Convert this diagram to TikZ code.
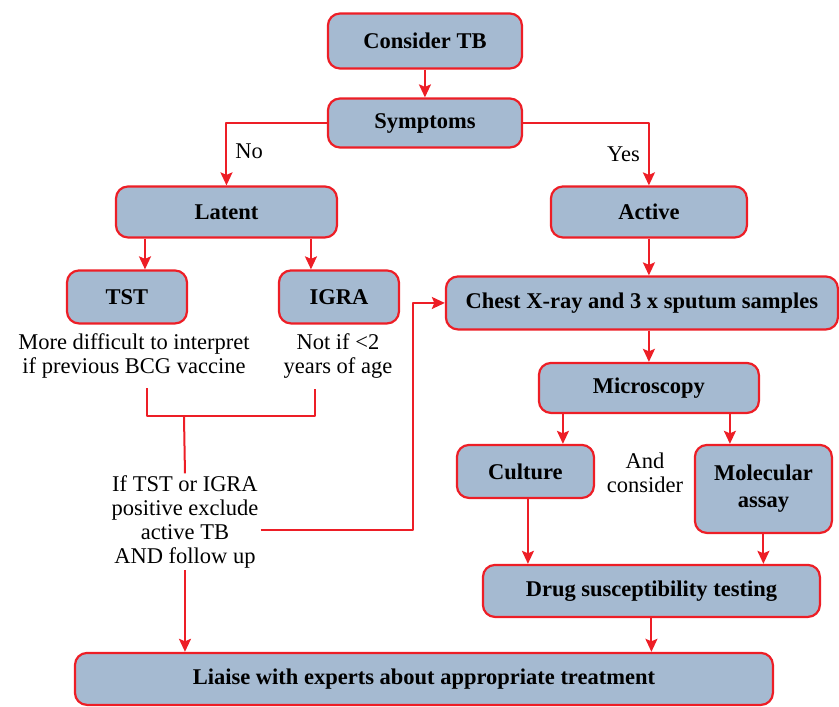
\documentclass[tikz,border=0pt]{standalone}
\usepackage{fontspec}
\setmainfont{Liberation Serif}
\usetikzlibrary{arrows.meta}
\definecolor{Bx}{RGB}{165, 186, 209}
\definecolor{Ln}{RGB}{237, 30, 38}

\begin{document}
\begin{tikzpicture}[>=Stealth, line cap=round, line join=round, x=1pt, y=-1pt,
  box/.style={draw=Ln, fill=Bx, line width=2.2pt, rounded corners=12pt, align=center,
    inner sep=0pt, font=\bfseries\fontsize{22.5}{27}\selectfont},
  note/.style={align=center, inner sep=2pt, font=\fontsize{22.5}{24}\selectfont},
  link/.style={draw=Ln, line width=2pt, line cap=butt},
  arr/.style={link, -{Stealth[length=13pt, width=12pt, inset=2.5pt]}}]
  \pgfextra{\path[use as bounding box] (0,0) rectangle (839,702);}

  % Boxes: name/x/y/width/height/text
  \foreach \name/\x/\y/\w/\h/\txt in {
    consider/425/41/194/55/{Consider TB},
    symptoms/425/123/194/49/{Symptoms},
    latent/226.5/212/221/51/{Latent},
    active/649/212/196/51/{Active},
    tst/127/297/120/53/{TST},
    igra/339/297/120/53/{IGRA},
    chest/642/303/392/53/{Chest X-ray and 3 x sputum samples},
    micro/649/388/220/50/{Microscopy},
    culture/525.5/471.5/137/53/{Culture},
    molec/763.5/489/137/88/{Molecular\\assay},
    drug/651.5/591/337/52/{Drug susceptibility testing},
    liaise/424/679/698/52/{Liaise with experts about appropriate treatment}}{
    \node[box, minimum width=\w, minimum height=\h] (\name) at (\x,\y) {\txt};
  }

  % Notes
  \node[note] (tstnote) at (134,356) {More difficult to interpret\\if previous BCG vaccine};
  \node[note] (igranote) at (338,356) {Not if <2\\years of age};
  \node[note] (ifpos) at (185,522) {If TST or IGRA\\positive exclude\\active TB\\AND follow up};
  \node[note] (andcons) at (645,473) {And\\consider};
  \coordinate (brl) at (147,416);
  \coordinate (brr) at (315,416);
  \coordinate (join) at (184,416);

  \draw[arr] (consider) -- (symptoms);
  \draw[arr] (symptoms.west) -| (latent.north) node[note, pos=0.73, right=6pt] (nolbl) {No};
  \draw[arr] (symptoms.east) -| (active.north) node[note, pos=0.75, left=6pt] (yeslbl) {Yes};
  \draw[arr] ([xshift=-81.5pt]latent.south) -- ([xshift=18pt]tst.north);
  \draw[arr] ([xshift=84.5pt]latent.south) -- ([xshift=-28pt]igra.north);
  \draw[link] ([yshift=-8pt]tstnote.south -| brl) -- (brl) -- (brr) -- ([yshift=-8pt]igranote.south -| brr);
  \draw[link] (join) -- (ifpos.north);
  \draw[arr] (ifpos.south) -- (ifpos.south |- liaise.north);
  \draw[arr] ([yshift=-8pt]ifpos.east) -| ([xshift=-32pt]chest.west) -- (chest.west);
  \draw[arr] (active.south) -- (active.south |- chest.north);
  \draw[arr] (micro.north |- chest.south) -- (micro.north);
  \draw[arr] ([xshift=37.5pt]culture.north |- micro.south) -- ([xshift=37.5pt]culture.north);
  \draw[arr] ([xshift=-33.5pt]molec.north |- micro.south) -- ([xshift=-33.5pt]molec.north);
  \draw[arr] ([xshift=2.5pt]culture.south) -- ([xshift=2.5pt]culture.south |- drug.north);
  \draw[arr] (molec.south) -- (molec.south |- drug.north);
  \draw[arr] (drug.south) -- (drug.south |- liaise.north);

\end{tikzpicture}
\end{document}
